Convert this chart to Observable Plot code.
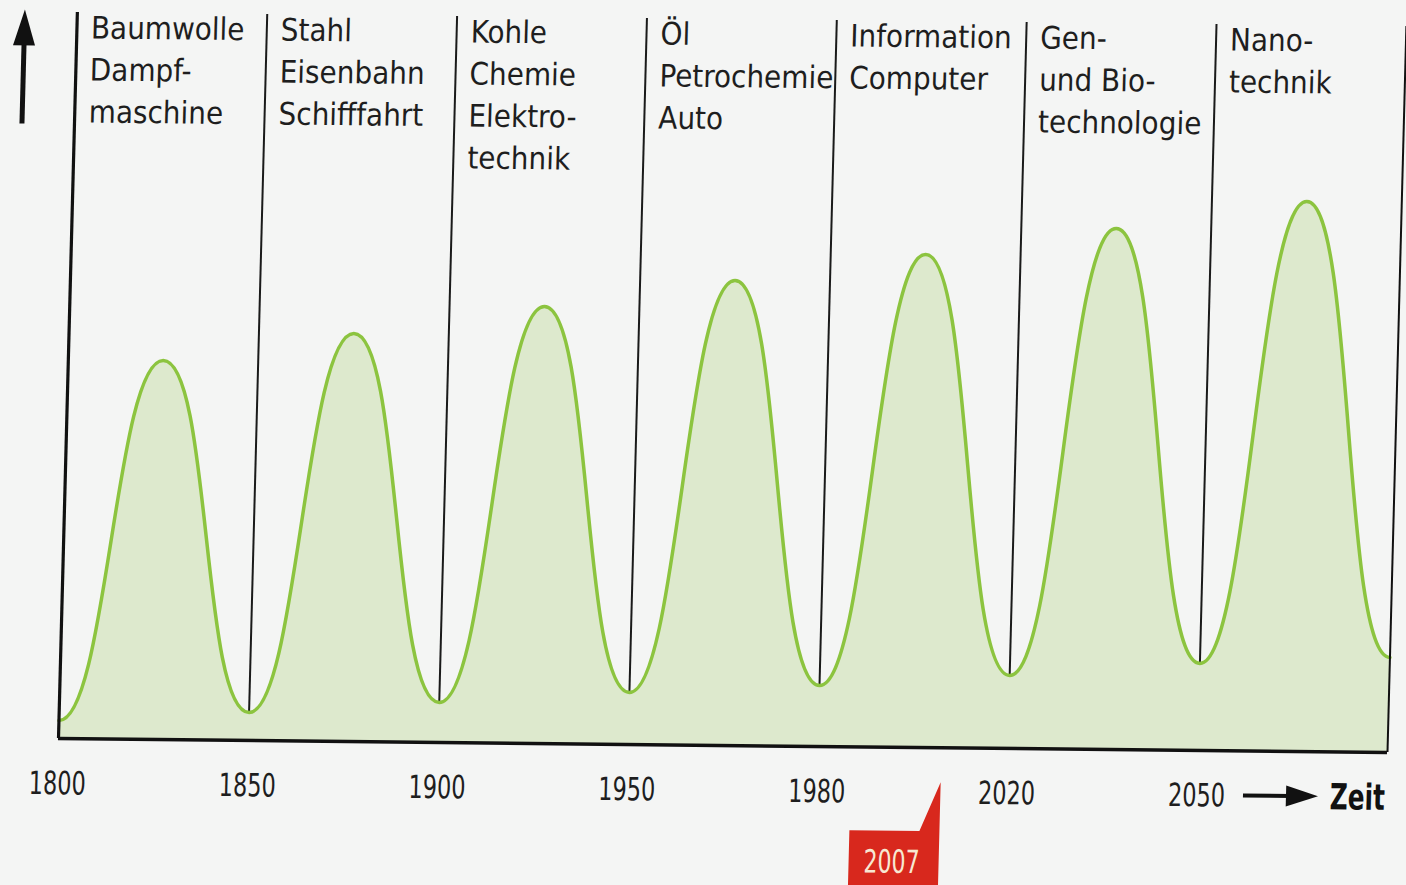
<!DOCTYPE html>
<html><head><meta charset="utf-8">
<script src="https://cdn.jsdelivr.net/npm/d3@7"></script>
<script src="https://cdn.jsdelivr.net/npm/@observablehq/plot@0.6"></script>
<style>
html,body{margin:0;padding:0;background:#f4f5f4;overflow:hidden}
#chart{position:absolute;left:0;top:0;width:1406px;height:885px}
#chart svg{transform-origin:58px 738px;transform:matrix(1,0.0105,-0.026,1,0,0)}
</style></head><body><div id="chart"></div>
<script>
// Tick labels (one per trough, evenly spaced on the chart)
const yearTicks = [1800, 1850, 1900, 1950, 1980, 2020, 2050];
// Curve heights (arbitrary units above the baseline)
const troughs = [18, 28, 40, 52, 61, 73, 87, 95];   // at 0,1,...,7
const peaks   = [379, 408, 437, 465, 493, 521, 550]; // at 0.5,1.5,...,6.5
// Wave labels
const waveLabels = [
  "Baumwolle\nDampf-\nmaschine",
  "Stahl\nEisenbahn\nSchifffahrt",
  "Kohle\nChemie\nElektro-\ntechnik",
  "Öl\nPetrochemie\nAuto",
  "Information\nComputer",
  "Gen-\nund Bio-\ntechnologie",
  "Nano-\ntechnik"
];
const markerYear = 2007;
const axisTop = 726;
const axisEnd = 7;

const points = [];
troughs.forEach((t, i) => {
  points.push({x: i, y: t});
  if (i < peaks.length) points.push({x: i + 0.5, y: peaks[i]});
});
const dividers = troughs.slice(1, 7).map((t, i) => ({x: i + 1, y: t}));
const labelData = waveLabels.map((t, i) => ({x: i, text: t}));

const labelFont = "'DejaVu Sans Condensed', 'DejaVu Sans', sans-serif";

const plot = Plot.plot({
  width: 1406, height: 885,
  marginLeft: 58, marginRight: 19, marginTop: 12, marginBottom: 147,
  style: {background: "none", overflow: "visible"},
  x: {domain: [0, axisEnd], axis: null},
  y: {domain: [0, axisTop], axis: null},
  marks: [
    Plot.areaY(points, {x: "x", y: "y", curve: "bump-x", fill: "#dde9cd"}),
    Plot.ruleX(dividers, {x: "x", y1: "y", y2: axisTop, stroke: "#1a1a1a", strokeWidth: 2}),
    Plot.lineY(points, {x: "x", y: "y", curve: "bump-x", stroke: "#8cc43f", strokeWidth: 3.5}),
    Plot.ruleX([0], {y1: 0, y2: axisTop, stroke: "#111", strokeWidth: 3.2}),
    Plot.ruleX([axisEnd], {y1: 0, y2: axisTop, stroke: "#111", strokeWidth: 2}),
    Plot.ruleY([0], {x1: 0, x2: axisEnd, stroke: "#111", strokeWidth: 3.5}),
    Plot.text(labelData, {x: "x", y: axisTop, text: "text", lineAnchor: "top", textAnchor: "start",
      dx: 14, dy: -4, fontSize: 31, lineHeight: 1.355, fill: "#1e1e1e", fontFamily: labelFont}),
    Plot.axisX(d3.range(yearTicks.length), {label: null, tickSize: 0, tickPadding: 33, fontSize: 32,
      fontFamily: labelFont, fill: "#1e1e1e", tickFormat: i => String(yearTicks[i])})
  ]
});
document.getElementById("chart").appendChild(plot);

const svg = d3.select(plot);
// condense the year labels like the original's narrow typeface
svg.selectAll('g[aria-label="x-axis tick label"] text')
  .attr("textLength", 57).attr("lengthAdjust", "spacingAndGlyphs");

const xs = plot.scale("x"), ys = plot.scale("y");
const x0 = xs.apply(0), yb = ys.apply(0), yt = ys.apply(axisTop);
const g = svg.append("g").attr("text-anchor", "start");

// vertical arrow at the left
const ax = x0 - 52;
g.append("line").attr("x1", ax).attr("x2", ax).attr("y1", yt + 112).attr("y2", yt + 30)
  .attr("stroke", "#111").attr("stroke-width", 5);
g.append("path").attr("d", `M${ax - 11},${yt + 34}L${ax + 11},${yt + 34}L${ax},${yt - 2}Z`).attr("fill", "#111");

// time arrow + "Zeit"
const x2050 = xs.apply(yearTicks.length - 1);
const ay = yb + 45;
g.append("line").attr("x1", x2050 + 47).attr("x2", x2050 + 95).attr("y1", ay).attr("y2", ay)
  .attr("stroke", "#111").attr("stroke-width", 4);
g.append("path").attr("d", `M${x2050 + 90},${ay - 10.5}L${x2050 + 122},${ay}L${x2050 + 90},${ay + 10.5}Z`).attr("fill", "#111");
g.append("text").attr("x", x2050 + 134).attr("y", ay + 13).attr("text-anchor", "start").text("Zeit")
  .attr("font-family", labelFont).attr("font-weight", "bold").attr("font-size", 36).attr("fill", "#111")
  .attr("textLength", 55).attr("lengthAdjust", "spacingAndGlyphs");

// 2007 marker
let k = 0;
while (k < yearTicks.length - 2 && yearTicks[k + 1] < markerYear) k++;
const idx = k + (markerYear - yearTicks[k]) / (yearTicks[k + 1] - yearTicks[k]);
const tx = xs.apply(idx) - 4, ty = yb + 35;
g.append("path").attr("d",
  `M${tx - 90},${ty + 49}L${tx - 20},${ty + 49}L${tx},${ty}L${tx},${ty + 140}L${tx - 90},${ty + 140}Z`)
  .attr("fill", "#d8281d");
g.append("text").attr("x", tx - 47).attr("y", ty + 91).attr("text-anchor", "middle").text(String(markerYear))
  .attr("font-family", labelFont).attr("font-size", 32).attr("fill", "#f7e8d2")
  .attr("textLength", 56).attr("lengthAdjust", "spacingAndGlyphs");
</script></body></html>
